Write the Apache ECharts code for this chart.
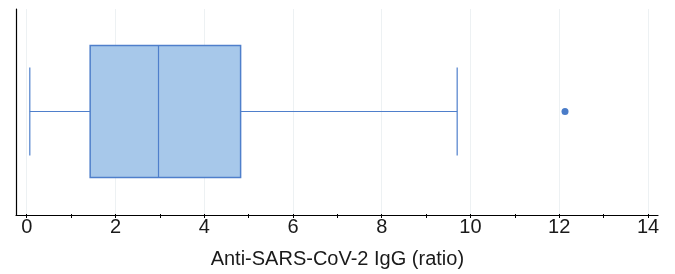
<!DOCTYPE html>
<html><head><meta charset="utf-8">
<script src="https://cdn.jsdelivr.net/npm/echarts@6/dist/echarts.min.js"></script>
<style>html,body{margin:0;padding:0;background:#fff}#c{width:675px;height:274px}</style>
</head><body><div id="c"></div>
<script>
var categories = ['IgG'];
var boxStats = [[0.07, 1.43, 2.97, 4.82, 9.70]]; // min, Q1, median, Q3, max
var outliers = [[12.13, 0]];
var xTicks = [0, 2, 4, 6, 8, 10, 12, 14];
var axisTitle = 'Anti-SARS-CoV-2 IgG (ratio)';

var chart = echarts.init(document.getElementById('c'), null, {renderer: 'canvas'});
var lineColor = '#4f7fcb';
chart.setOption({
  animation: false,
  grid: [
    {left: 26.7, right: 27, top: 9, bottom: 59},
    {left: 16, right: 17, top: 9, bottom: 59}
  ],
  xAxis: [{
    gridIndex: 0, type: 'value', min: xTicks[0], max: xTicks[xTicks.length - 1], interval: 2,
    name: axisTitle, nameLocation: 'middle', nameGap: 35,
    nameTextStyle: {fontFamily: 'Liberation Sans', fontSize: 20, color: '#1a1a1a'},
    axisLine: {show: false},
    axisTick: {show: true, length: 4, lineStyle: {color: '#000', width: 1}},
    minorTick: {show: true, splitNumber: 2, length: 4, lineStyle: {color: '#000', width: 1}},
    axisLabel: {fontFamily: 'Liberation Sans', fontSize: 20, color: '#1a1a1a', margin: 3},
    splitLine: {show: true, lineStyle: {color: '#edf1f3', width: 1}}
  }, {
    gridIndex: 1, type: 'value', min: 0, max: 1,
    axisLine: {show: true, onZero: false, lineStyle: {color: '#000', width: 1.2}},
    axisTick: {show: false}, axisLabel: {show: false}, splitLine: {show: false}
  }],
  yAxis: [{
    gridIndex: 0, type: 'category', data: categories, boundaryGap: true,
    axisLine: {show: false}, axisTick: {show: false}, axisLabel: {show: false}, splitLine: {show: false}
  }, {
    gridIndex: 1, type: 'value', min: 0, max: 1,
    axisLine: {show: true, onZero: false, lineStyle: {color: '#000', width: 1.2}},
    axisTick: {show: false}, axisLabel: {show: false}, splitLine: {show: false}
  }],
  series: [{
    type: 'custom', xAxisIndex: 0, yAxisIndex: 0,
    data: boxStats.map(function (d, i) { return [i].concat(d); }),
    encode: {x: [1, 2, 3, 4, 5], y: 0},
    renderItem: function (params, api) {
      var ci = api.value(0);
      var mn = api.coord([api.value(1), ci]);
      var q1 = api.coord([api.value(2), ci]);
      var md = api.coord([api.value(3), ci]);
      var q3 = api.coord([api.value(4), ci]);
      var mx = api.coord([api.value(5), ci]);
      var band = api.size([0, 1])[1];
      var bh = band * 0.643, ch = band * 0.43;
      var cy = mn[1];
      var ls = {stroke: lineColor, lineWidth: 1.2};
      return {type: 'group', children: [
        {type: 'line', shape: {x1: mn[0], y1: cy, x2: q1[0], y2: cy}, style: ls},
        {type: 'line', shape: {x1: q3[0], y1: cy, x2: mx[0], y2: cy}, style: ls},
        {type: 'line', shape: {x1: mn[0], y1: cy - ch / 2, x2: mn[0], y2: cy + ch / 2}, style: ls},
        {type: 'line', shape: {x1: mx[0], y1: cy - ch / 2, x2: mx[0], y2: cy + ch / 2}, style: ls},
        {type: 'rect', shape: {x: q1[0], y: cy - bh / 2, width: q3[0] - q1[0], height: bh},
          style: {fill: '#a7c8ea', stroke: lineColor, lineWidth: 1.5}},
        {type: 'line', shape: {x1: md[0], y1: cy - bh / 2, x2: md[0], y2: cy + bh / 2}, style: ls}
      ]};
    }
  }, {
    type: 'scatter', xAxisIndex: 0, yAxisIndex: 0, data: outliers, symbolSize: 7,
    itemStyle: {color: '#4a7cc8', opacity: 1}
  }]
});
</script></body></html>
